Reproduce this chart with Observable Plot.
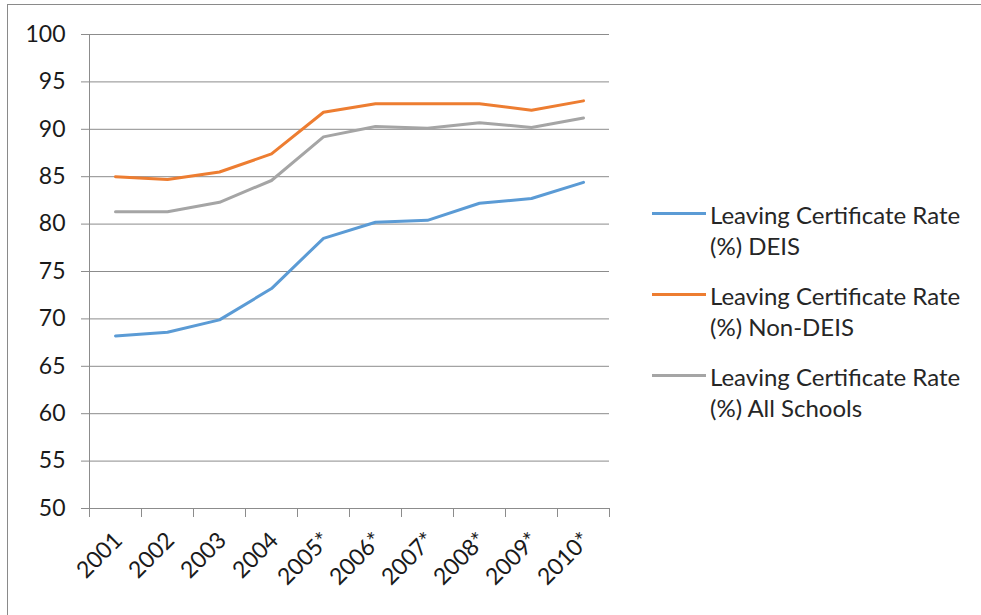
<!DOCTYPE html>
<html><head><meta charset="utf-8">
<script src="https://cdn.jsdelivr.net/npm/d3@7"></script>
<script src="https://cdn.jsdelivr.net/npm/@observablehq/plot@0.6"></script>
<style>
html,body{margin:0;padding:0;background:#fff;}
body{width:981px;height:615px;overflow:hidden;position:relative;font-family:Lato,"Open Sans",sans-serif;}
#frame{position:absolute;left:7px;top:4px;width:1100px;height:800px;border:1px solid #8a8a8a;box-sizing:border-box;}
#chart{position:absolute;left:0;top:0;}
#legend{position:absolute;left:0;top:0;}
.sw{position:absolute;width:54px;height:3px;}
.lab{position:absolute;font-size:24px;line-height:31px;color:#262626;white-space:pre;}
</style></head><body>
<div id="frame"></div>
<div id="chart"></div>
<div id="legend"></div>
<script>
const years = ["2001","2002","2003","2004","2005*","2006*","2007*","2008*","2009*","2010*"];
const deis       = [68.2, 68.6, 69.9, 73.2, 78.5, 80.2, 80.4, 82.2, 82.7, 84.4];
const nonDeis    = [85.0, 84.7, 85.5, 87.4, 91.8, 92.7, 92.7, 92.7, 92.0, 93.0];
const allSchools = [81.3, 81.3, 82.3, 84.6, 89.2, 90.3, 90.1, 90.7, 90.2, 91.2];
const seriesNames = ["Leaving Certificate Rate (%) DEIS", "Leaving Certificate Rate (%) Non-DEIS", "Leaving Certificate Rate (%) All Schools"];
const seriesColors = ["#5B9BD5", "#ED7D31", "#A5A5A5"];
const yTicks = [50, 55, 60, 65, 70, 75, 80, 85, 90, 95, 100];

const seriesValues = [deis, nonDeis, allSchools];
const rows = [];
seriesNames.forEach((name, s) => seriesValues[s].forEach((v, i) => rows.push({series: name, i, year: years[i], value: v})));
const boundaries = d3.range(0, years.length + 1);
const axisColor = "#8c8c8c";

const chart = Plot.plot({
  width: 620, height: 615,
  marginLeft: 89, marginRight: 11, marginTop: 34, marginBottom: 107,
  x: {type: "linear", domain: [0, years.length], axis: null},
  y: {domain: [50, 100], axis: null},
  color: {domain: seriesNames, range: seriesColors},
  style: {fontFamily: "Lato, 'Open Sans', sans-serif", fontSize: "23px", background: "transparent", overflow: "visible"},
  marks: [
    Plot.ruleY(yTicks.filter(t => t > 50), {x1: 0, x2: years.length, stroke: axisColor, strokeWidth: 1}),
    Plot.ruleX([0], {y1: 50, y2: 100, stroke: axisColor}),
    Plot.ruleY([50], {x1: 0, x2: years.length, stroke: axisColor}),
    Plot.axisY({ticks: yTicks, label: null, tickSize: 8, tickPadding: 16, stroke: axisColor, fill: "#1a1a1a", fontSize: 23}),
    Plot.axisX({ticks: boundaries, label: null, tickSize: 9, tickFormat: () => "", stroke: axisColor}),
    Plot.text(years, {x: (d, i) => i + 0.5, y: () => 50, text: d => d, rotate: -45, textAnchor: "end", lineAnchor: "middle", dx: 3, dy: 28, fontSize: 23, fill: "#1a1a1a"}),
    Plot.line(rows, {x: d => d.i + 0.5, y: "value", z: "series", stroke: "series", strokeWidth: 3, strokeLinejoin: "round", strokeLinecap: "round"})
  ]
});
document.getElementById("chart").appendChild(chart);

const legend = document.getElementById("legend");
seriesNames.forEach((name, s) => {
  const top = 213 + s * 81;
  const sw = document.createElement("div");
  sw.className = "sw";
  sw.style.left = "652px"; sw.style.top = (top - 1) + "px"; sw.style.background = seriesColors[s];
  legend.appendChild(sw);
  const lab = document.createElement("div");
  lab.className = "lab";
  lab.style.left = "710px"; lab.style.top = (top - 14) + "px";
  lab.textContent = name.replace(" (%)", "\n(%)");
  legend.appendChild(lab);
});
</script>
</body></html>
